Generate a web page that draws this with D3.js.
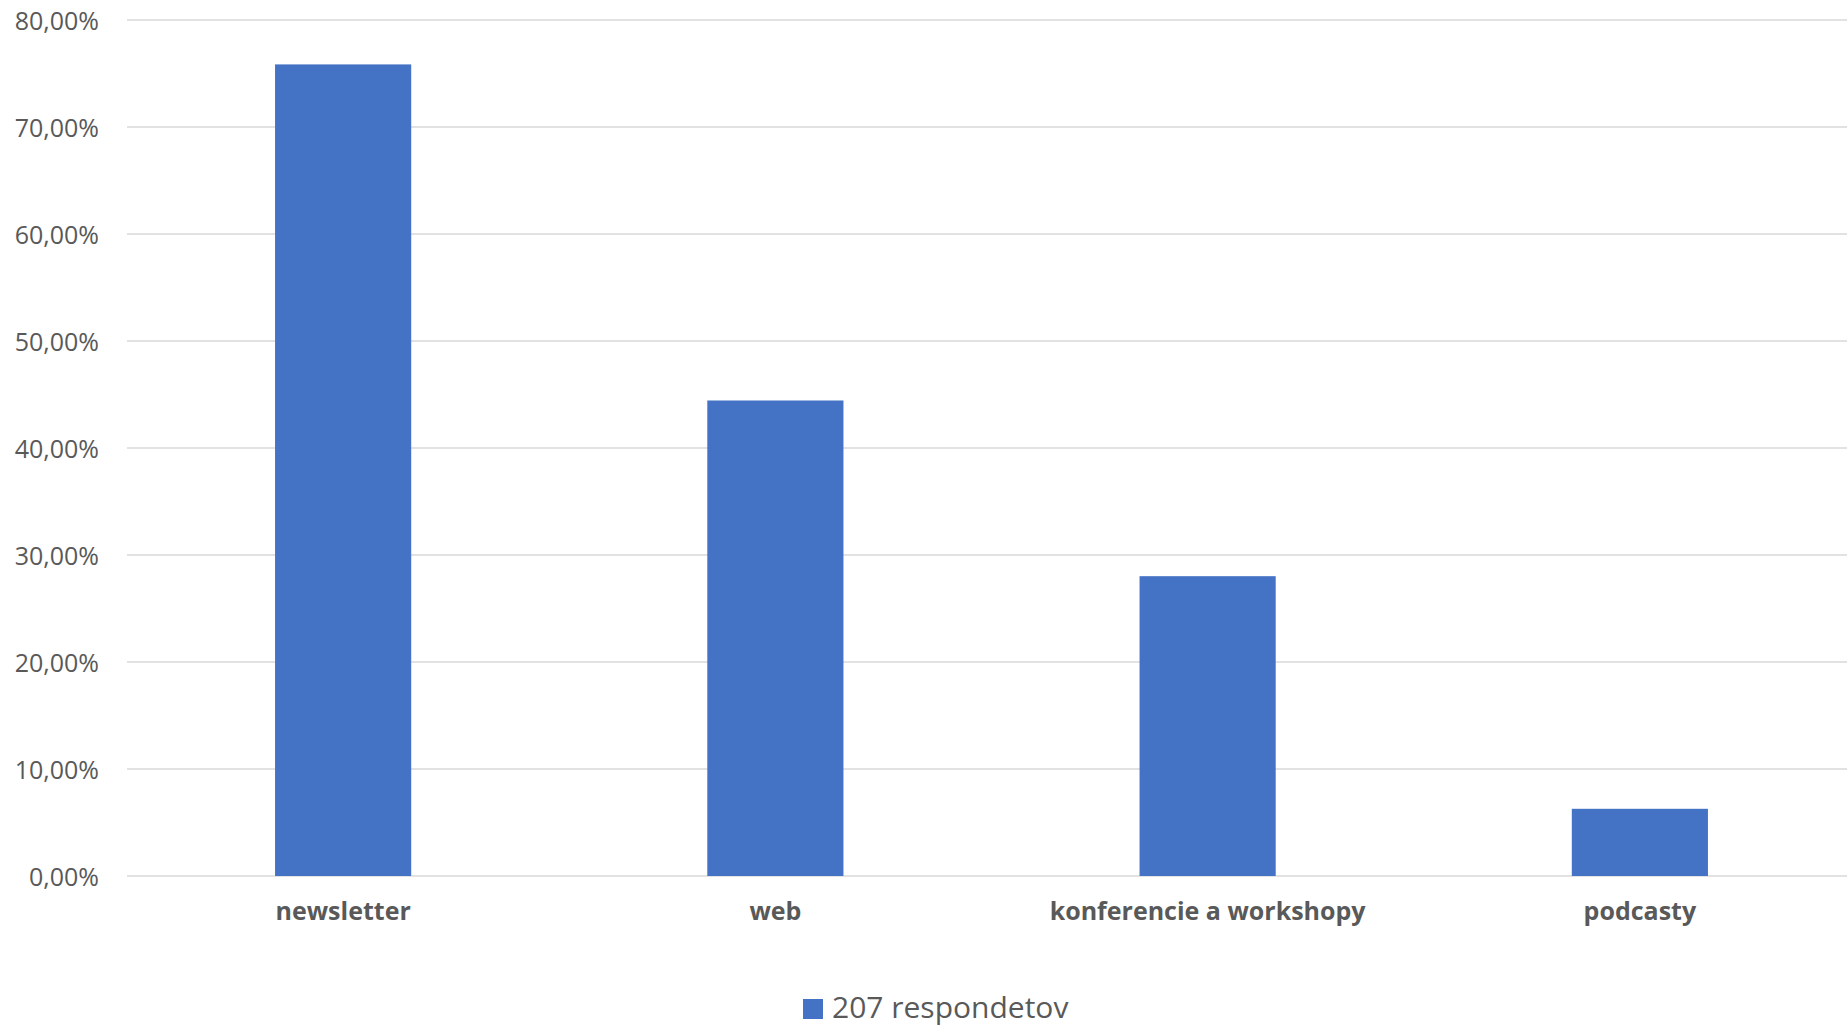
<!DOCTYPE html>
<html><head><meta charset="utf-8">
<script src="https://cdn.jsdelivr.net/npm/d3@7"></script>
<style>html,body{margin:0;padding:0;background:#fff;overflow:hidden}</style>
</head><body>
<svg id="chart" width="1847" height="1026"></svg>
<script>
const categories = ["newsletter", "web", "konferencie a workshopy", "podcasty"];
const values = [75.85, 44.44, 28.02, 6.28];
const tickValues = [0, 10, 20, 30, 40, 50, 60, 70, 80];
const seriesName = "207 respondetov";

const svg = d3.select("#chart");
const font = "'Open Sans', 'Noto Sans', sans-serif";
const margin = {left: 127, right: -9, top: 20, bottom: 150};
const W = 1847, H = 1026;

const x = d3.scaleBand().domain(categories)
  .range([margin.left, W - margin.right]).paddingInner(0.685).paddingOuter(0.3425);
const y = d3.scaleLinear().domain([0, 80]).range([876, 20]);

// gridlines
svg.append("g").selectAll("line").data(tickValues).join("line")
  .attr("x1", margin.left).attr("x2", W)
  .attr("y1", d => y(d)).attr("y2", d => y(d))
  .attr("stroke", "#d9d9d9").attr("stroke-width", 1.5);

// y axis labels
const yAxis = d3.axisLeft(y).tickValues(tickValues)
  .tickFormat(d => d3.format(".2f")(d).replace(".", ",") + "%").tickSize(0).tickPadding(0);
const ya = svg.append("g").attr("transform", "translate(99,0)").call(yAxis);
ya.select(".domain").remove();
ya.selectAll("text").attr("font-family", font).attr("font-size", 25)
  .attr("fill", "#595959").attr("dy", "0.37em");

// bars
svg.append("g").selectAll("rect").data(values).join("rect")
  .attr("x", (d, i) => x(categories[i]))
  .attr("width", x.bandwidth())
  .attr("y", d => y(d))
  .attr("height", d => y(0) - y(d))
  .attr("fill", "#4472c4");

// x axis labels
const xAxis = d3.axisBottom(x).tickSize(0).tickPadding(0);
const xa = svg.append("g").attr("transform", "translate(0,920)").call(xAxis);
xa.select(".domain").remove();
xa.selectAll("text").attr("font-family", font).attr("font-size", 25)
  .attr("font-weight", "bold").attr("fill", "#595959").attr("dy", 0);

// legend
const lg = svg.append("g");
lg.append("rect").attr("x", 803).attr("y", 999).attr("width", 20).attr("height", 20).attr("fill", "#4472c4");
lg.append("text").attr("x", 832).attr("y", 1018).text(seriesName)
  .attr("font-family", font).attr("font-size", 30).attr("fill", "#595959");
</script>
</body></html>
